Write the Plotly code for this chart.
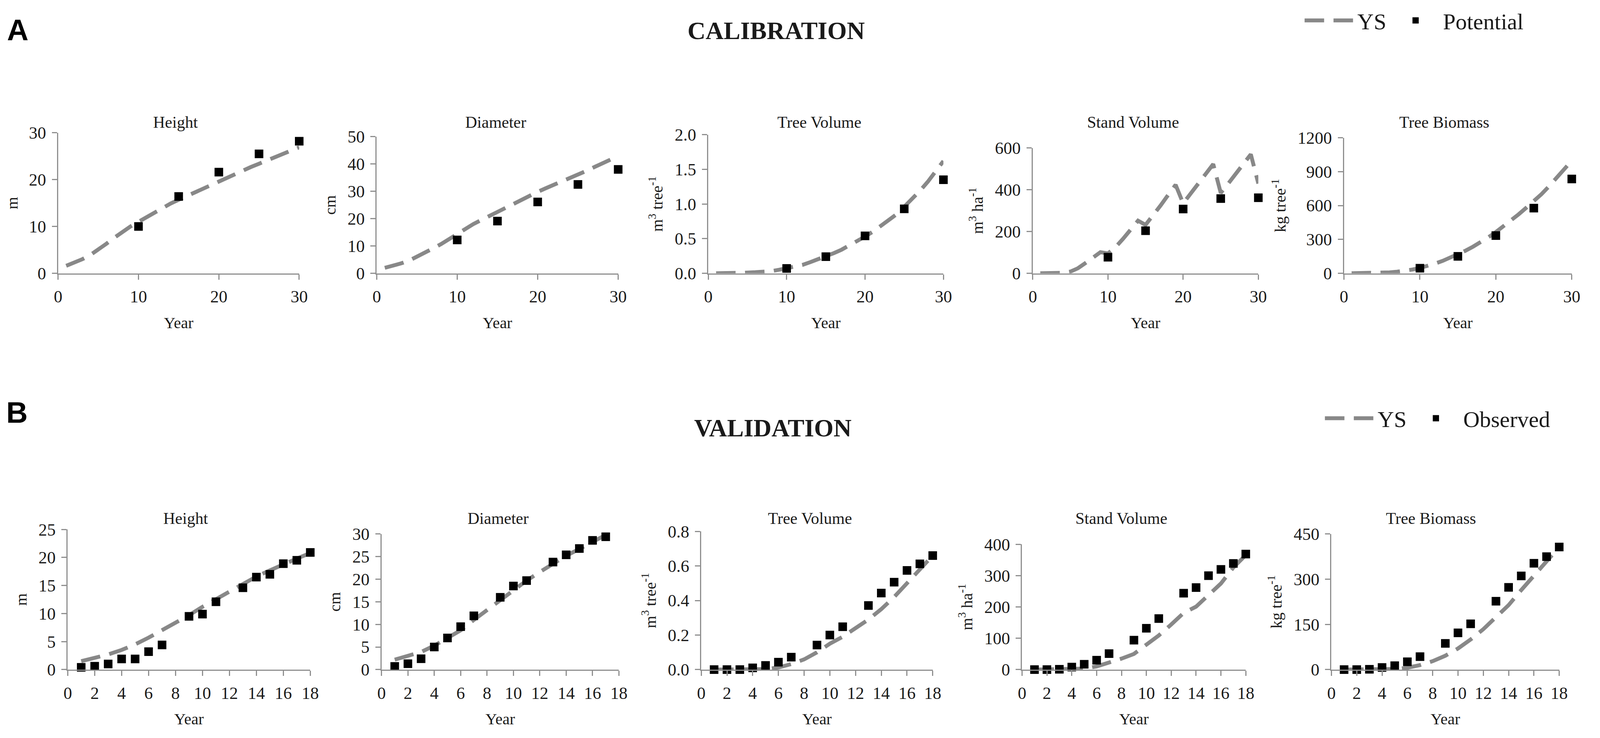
import plotly.graph_objects as go
from plotly.subplots import make_subplots

# ---------------- A: calibration ----------------
cal_years = list(range(1, 31))
cal_pot_years = [10, 15, 20, 25, 30]

cal_height_ys = [1.6, 2.2, 3.0, 3.9, 5.0, 6.3, 7.6, 8.9, 10.0, 11.0, 12.0, 13.0, 14.0, 14.9, 15.7,
                 16.5, 17.3, 18.1, 18.9, 19.6, 20.4, 21.1, 21.9, 22.7, 23.4, 24.1, 24.8, 25.5, 26.2, 26.9]
cal_height_pot = [10.0, 16.4, 21.6, 25.5, 28.2]

cal_diam_ys = [2.0, 2.7, 3.6, 4.6, 6.0, 7.6, 9.1, 10.7, 12.5, 14.7, 16.4, 18.0, 19.5, 21.0, 22.4,
               23.9, 25.4, 26.9, 28.4, 29.8, 31.1, 32.3, 33.5, 34.8, 36.0, 37.4, 38.8, 40.2, 41.6, 42.9]
cal_diam_pot = [12.2, 19.1, 26.1, 32.5, 38.0]

cal_tvol_ys = [0.0, 0.0, 0.0, 0.005, 0.01, 0.015, 0.02, 0.03, 0.05, 0.07, 0.09, 0.12, 0.16, 0.20, 0.24,
               0.29, 0.34, 0.40, 0.46, 0.53, 0.60, 0.68, 0.76, 0.85, 0.96, 1.07, 1.19, 1.32, 1.46, 1.62]
cal_tvol_pot = [0.07, 0.24, 0.54, 0.93, 1.35]

cal_svol_ys = [0, 0, 0, 2, 8, 24, 49, 73, 101, 95, 125, 165, 208, 252, 232,
               275, 325, 375, 424, 335, 380, 428, 476, 523, 385, 430, 478, 525, 570, 430]
cal_svol_pot = [77, 204, 308, 358, 362]

cal_bio_ys = [0, 0, 1, 2, 4, 8, 14, 22, 33, 47, 65, 86, 110, 137, 167,
              200, 236, 275, 318, 365, 415, 467, 522, 580, 635, 700, 770, 845, 920, 997]
cal_bio_pot = [45, 150, 334, 577, 835]

# ---------------- B: validation ----------------
val_years = list(range(1, 19))
val_obs_years = [1, 2, 3, 4, 5, 6, 7, 9, 10, 11, 13, 14, 15, 16, 17, 18]

val_height_ys = [1.5, 2.1, 2.7, 3.5, 4.5, 5.7, 7.0, 8.3, 9.7, 11.2, 12.6, 14.0, 15.3, 16.6, 17.7, 18.8, 19.8, 20.8]
val_height_obs = [0.4, 0.6, 1.0, 1.9, 1.9, 3.2, 4.4, 9.5, 9.9, 12.1, 14.6, 16.5, 17.0, 18.9, 19.5, 20.9]

val_diam_years = list(range(1, 18))
val_diam_obs_years = [1, 2, 3, 4, 5, 6, 7, 9, 10, 11, 13, 14, 15, 16, 17]
val_diam_ys = [2.2, 3.0, 3.9, 5.3, 6.9, 8.7, 11.0, 13.2, 15.5, 17.7, 19.7, 21.6, 23.4, 25.2, 26.7, 28.3, 29.8]
val_diam_obs = [0.7, 1.3, 2.4, 5.0, 7.0, 9.5, 11.9, 16.0, 18.5, 19.7, 23.8, 25.4, 26.8, 28.6, 29.4]

val_tvol_ys = [0.0, 0.0, 0.0, 0.0, 0.003, 0.012, 0.032, 0.059, 0.10, 0.15, 0.19, 0.24, 0.29, 0.35, 0.42, 0.50, 0.58, 0.66]
val_tvol_obs = [0.0, 0.0, 0.0, 0.01, 0.024, 0.043, 0.072, 0.142, 0.20, 0.248, 0.371, 0.443, 0.506, 0.574, 0.612, 0.660]

val_svol_ys = [0, 0, 0, 0, 3, 10, 21, 35, 50, 78, 109, 144, 181, 201, 240, 275, 326, 366]
val_svol_obs = [0, 0, 1, 8, 17, 30, 51, 94, 132, 163, 244, 262, 300, 320, 339, 369]

val_bio_ys = [0, 0, 0, 0, 2, 6, 15, 28, 46, 70, 100, 134, 172, 214, 264, 313, 362, 407]
val_bio_obs = [0, 0, 1, 7, 13, 26, 43, 87, 122, 152, 227, 273, 311, 353, 375, 407]

# ---------------- styling ----------------
W, H = 4317, 1889   # reference size, used to turn pixel positions into paper fractions
SERIF = "Liberation Serif, Times New Roman, serif"
SANS = "Liberation Sans, Arial, sans-serif"
LINE_GREY = "#888888"
AXIS_GREY = "#8f8f8f"
INK = "#1a1a1a"

fig = make_subplots(rows=2, cols=5)

# row, col, title, y title, line x, line y, point x, point y, y max, y step, tick format, point name
panels = [
    (1, 1, "Height", "m", cal_years, cal_height_ys, cal_pot_years, cal_height_pot, 30, 10, "", "Potential"),
    (1, 2, "Diameter", "cm", cal_years, cal_diam_ys, cal_pot_years, cal_diam_pot, 50, 10, "", "Potential"),
    (1, 3, "Tree Volume", "m<sup>3</sup> tree<sup>-1</sup>", cal_years, cal_tvol_ys, cal_pot_years, cal_tvol_pot, 2.0, 0.5, ".1f", "Potential"),
    (1, 4, "Stand Volume", "m<sup>3</sup> ha<sup>-1</sup>", cal_years, cal_svol_ys, cal_pot_years, cal_svol_pot, 600, 200, "", "Potential"),
    (1, 5, "Tree Biomass", "kg tree<sup>-1</sup>", cal_years, cal_bio_ys, cal_pot_years, cal_bio_pot, 1200, 300, "", "Potential"),
    (2, 1, "Height", "m", val_years, val_height_ys, val_obs_years, val_height_obs, 25, 5, "", "Observed"),
    (2, 2, "Diameter", "cm", val_diam_years, val_diam_ys, val_diam_obs_years, val_diam_obs, 30, 5, "", "Observed"),
    (2, 3, "Tree Volume", "m<sup>3</sup> tree<sup>-1</sup>", val_years, val_tvol_ys, val_obs_years, val_tvol_obs, 0.8, 0.2, ".1f", "Observed"),
    (2, 4, "Stand Volume", "m<sup>3</sup> ha<sup>-1</sup>", val_years, val_svol_ys, val_obs_years, val_svol_obs, 400, 100, "", "Observed"),
    (2, 5, "Tree Biomass", "kg tree<sup>-1</sup>", val_years, val_bio_ys, val_obs_years, val_bio_obs, 450, 150, "", "Observed"),
]

# plot-area boxes in reference pixels: (left, right, top, bottom)
boxes = {
    (1, 1): (149, 802, 312, 680), (1, 2): (1012, 1666, 322, 680), (1, 3): (1910, 2547, 317, 680),
    (1, 4): (2789, 3400, 352, 680), (1, 5): (3632, 4249, 325, 680),
    (2, 1): (175, 832, 1351, 1718), (2, 2): (1025, 1668, 1363, 1718), (2, 3): (1891, 2518, 1356, 1718),
    (2, 4): (2760, 3366, 1390, 1718), (2, 5): (3598, 4215, 1363, 1718),
}
title_x = {
    (1, 1): 467, (1, 2): 1334, (1, 3): 2211, (1, 4): 3061, (1, 5): 3904,
    (2, 1): 495, (2, 2): 1341, (2, 3): 2185, (2, 4): 3029, (2, 5): 3868,
}
title_y = {1: 284, 2: 1322}

annotations = []
for row, col, title, ytitle, lx, ly, px, py, ymax, ystep, fmt, pname in panels:
    legend_id = "legend" if row == 1 else "legend2"
    first = col == 1
    fig.add_trace(go.Scatter(x=lx, y=ly, mode="lines", name="YS",
                             line=dict(color=LINE_GREY, width=10, dash="50px,24px"),
                             showlegend=first, legend=legend_id, cliponaxis=False),
                  row=row, col=col)
    fig.add_trace(go.Scatter(x=px, y=py, mode="markers", name=pname,
                             marker=dict(symbol="square", color="black", size=22),
                             showlegend=first, legend=legend_id, cliponaxis=False),
                  row=row, col=col)

    left, right, top, bottom = boxes[(row, col)]
    xmax = 30 if row == 1 else 18
    fig.update_xaxes(domain=[left / W, right / W], range=[0, xmax], dtick=10 if row == 1 else 2,
                     title=dict(text="Year", font=dict(size=41, family=SERIF, color=INK), standoff=28),
                     row=row, col=col)
    fig.update_yaxes(domain=[1 - bottom / H, 1 - top / H], range=[0, ymax], dtick=ystep, tickformat=fmt,
                     title=dict(text=ytitle, font=dict(size=41, family=SERIF, color=INK), standoff=18),
                     row=row, col=col)
    annotations.append(dict(text=title, x=title_x[(row, col)] / W, y=1 - title_y[row] / H,
                            font=dict(size=42, family=SERIF, color=INK)))

fig.update_xaxes(showline=True, linecolor=AXIS_GREY, linewidth=3, showgrid=False, zeroline=False,
                 ticks="outside", ticklen=13, tickwidth=3, tickcolor=AXIS_GREY, ticklabelstandoff=6,
                 tickfont=dict(size=44, family=SERIF, color=INK), automargin=False)
fig.update_yaxes(showline=True, linecolor=AXIS_GREY, linewidth=3, showgrid=False, zeroline=False,
                 ticks="outside", ticklen=13, tickwidth=3, tickcolor=AXIS_GREY, ticklabelstandoff=6,
                 tickfont=dict(size=44, family=SERIF, color=INK), automargin=False)

# panel letters and section headings
annotations += [
    dict(text="<b>A</b>", x=40 / W, y=1 - 42 / H, font=dict(size=76, family=SANS, color="black")),
    dict(text="<b>B</b>", x=38 / W, y=1 - 1044 / H, font=dict(size=76, family=SANS, color="black")),
    dict(text="<b>CALIBRATION</b>", x=2094 / W, y=1 - 45 / H, font=dict(size=64, family=SERIF, color=INK)),
    dict(text="<b>VALIDATION</b>", x=2085 / W, y=1 - 1085 / H, font=dict(size=64, family=SERIF, color=INK)),
]
# every text is centred on its point (plotly's "auto" anchors would shift them)
for a in annotations:
    a.update(xref="paper", yref="paper", showarrow=False, xanchor="center", yanchor="middle")

legend_style = dict(orientation="h", xanchor="left", yanchor="middle", bgcolor="rgba(0,0,0,0)",
                    itemwidth=130, font=dict(size=58, family=SERIF, color=INK))

# size follows the browser window so nothing gets cut at the edges
fig.update_layout(
    autosize=True,
    margin=dict(l=0, r=0, t=0, b=0),
    paper_bgcolor="white", plot_bgcolor="white",
    annotations=annotations,
    legend=dict(x=3520 / W, y=1 - 18 / H, **legend_style),
    legend2=dict(x=3575 / W, y=1 - 1060 / H, **legend_style),
)

fig.write_html("out.html", default_width="calc(100vw - 16px)", default_height="calc(100vh - 16px)")
